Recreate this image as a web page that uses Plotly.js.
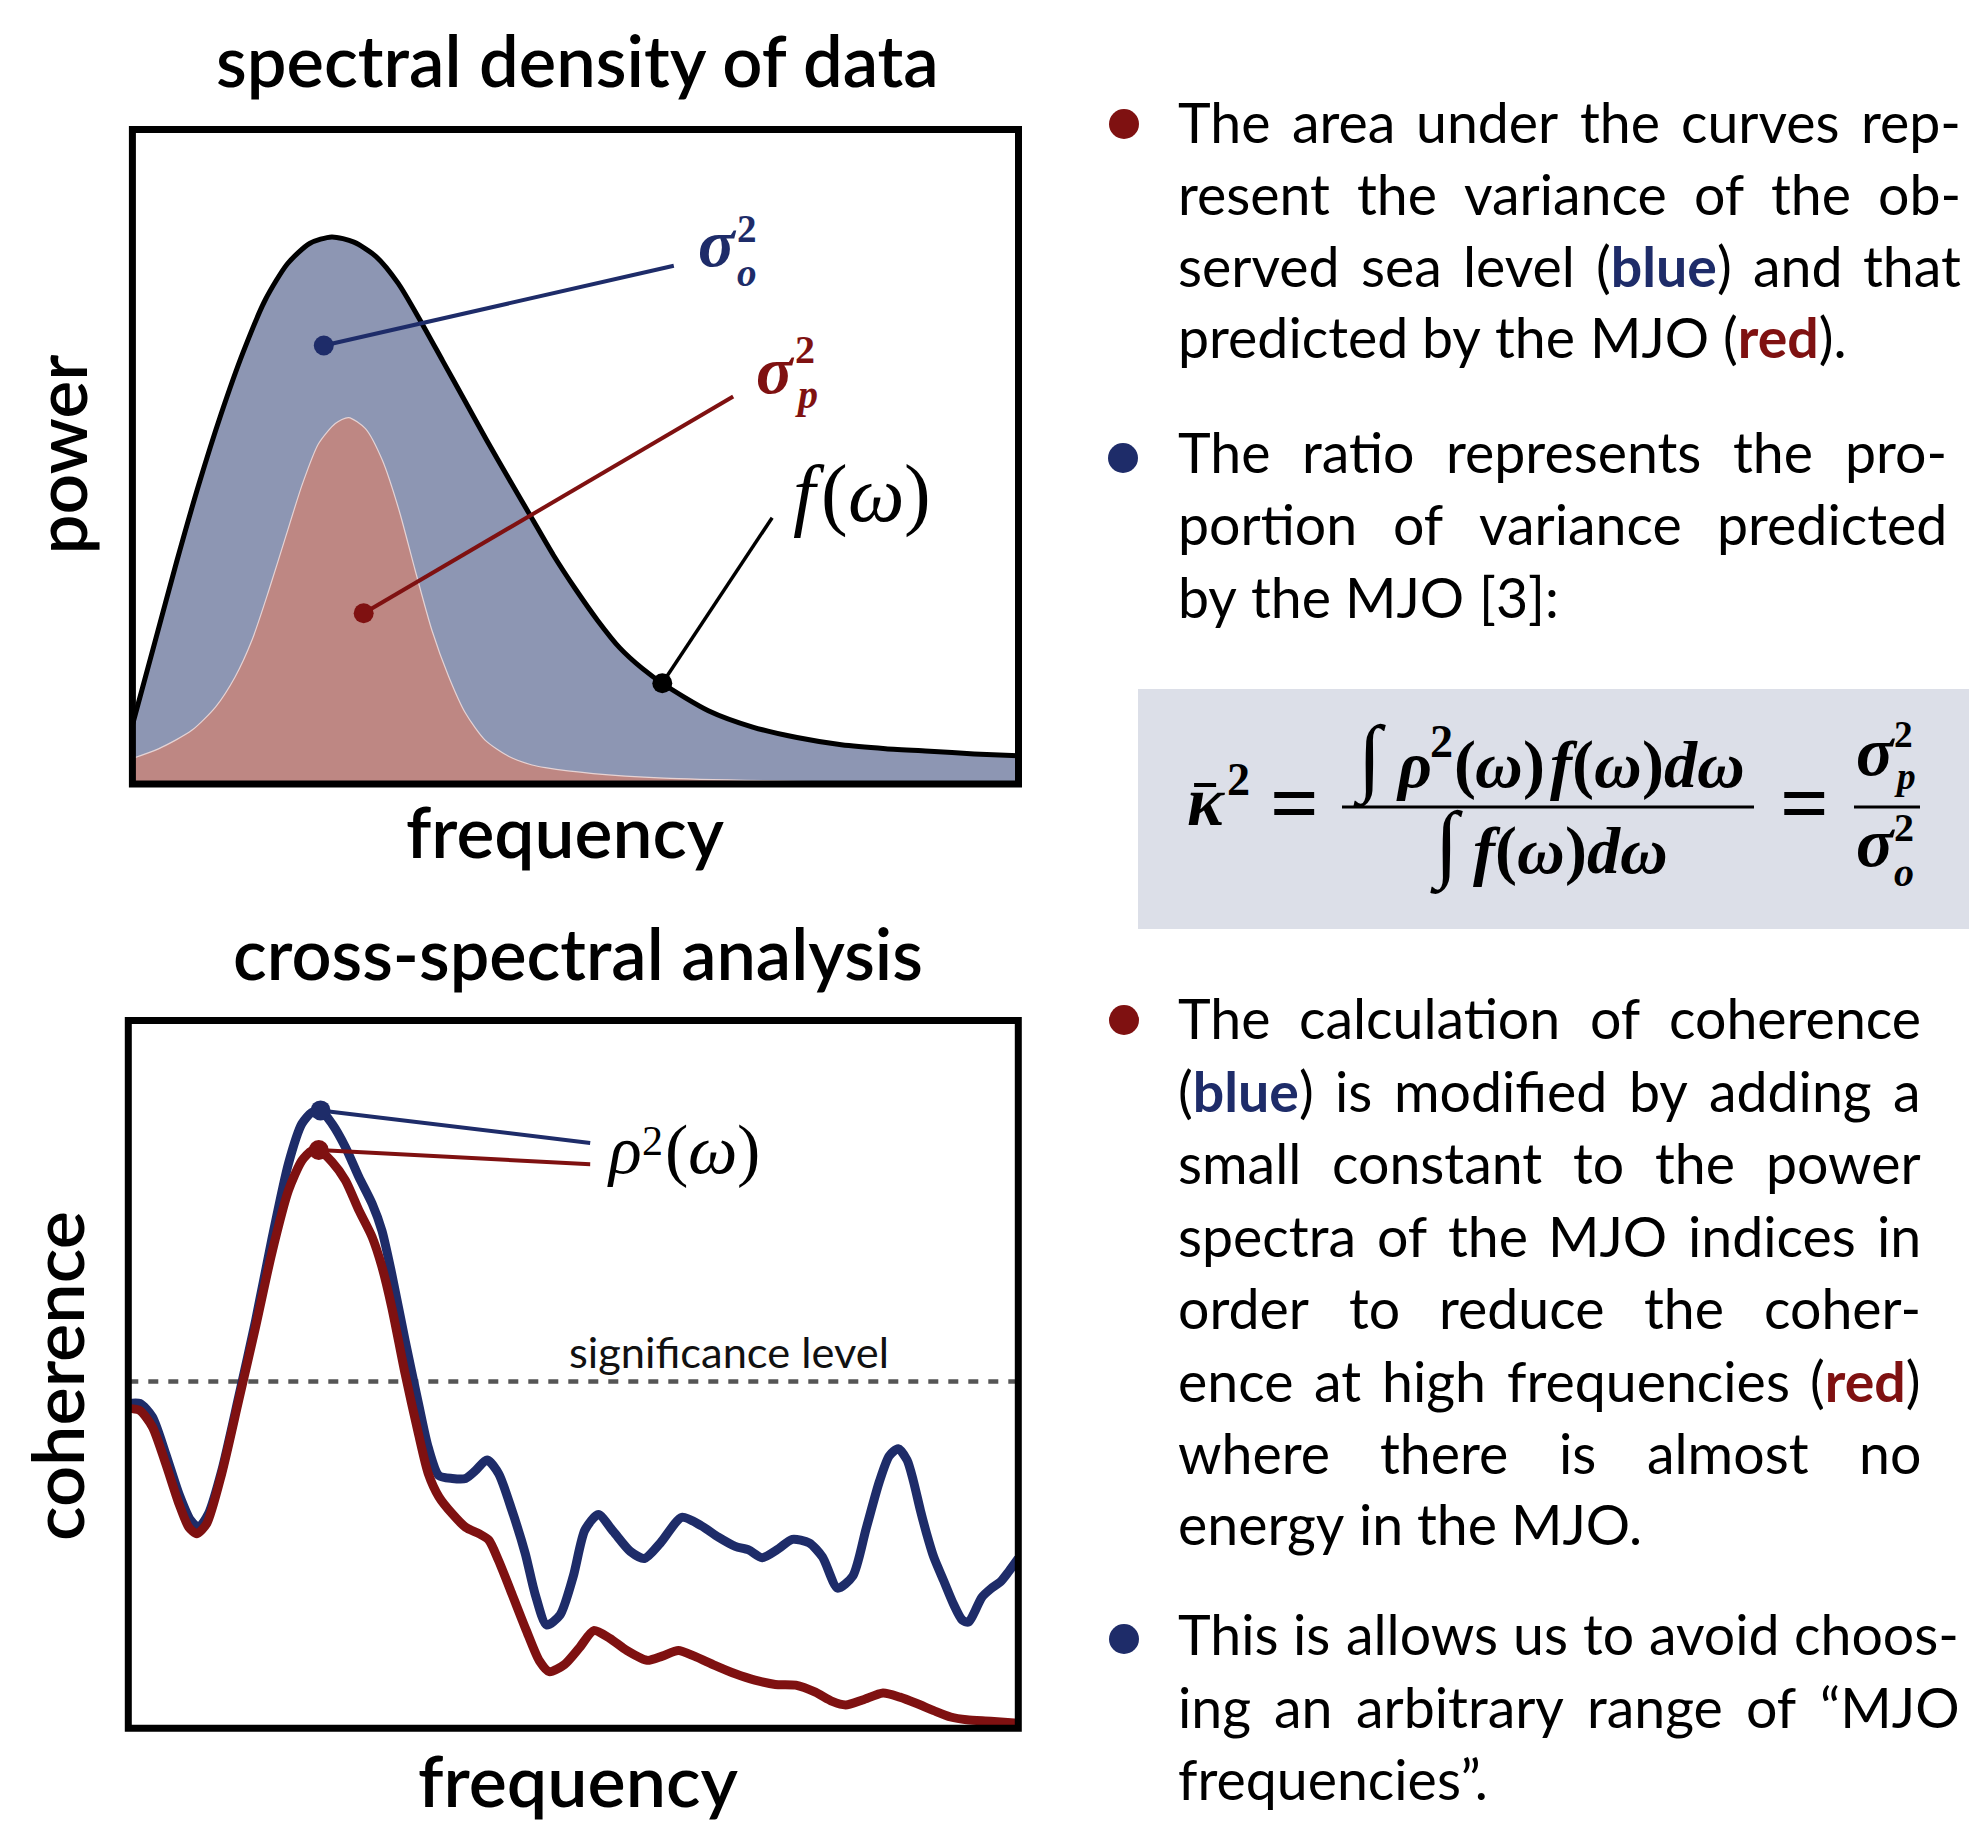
<!DOCTYPE html>
<html><head><meta charset="utf-8">
<script src="https://cdn.plot.ly/plotly-3.0.1.min.js"></script>
<style>html,body{margin:0;padding:0;background:#fff}#chart{width:1969px;height:1824px}</style>
</head><body><div id="chart"></div>
<script>
// ---------------- DATA ----------------
// top panel: spectral density f(omega) of observed data and the part predicted by the MJO
const freqObs  = [0.000, 0.025, 0.050, 0.075, 0.100, 0.125, 0.150, 0.175, 0.200, 0.225, 0.250, 0.275, 0.300, 0.325, 0.350, 0.375, 0.400, 0.425, 0.450, 0.475, 0.500, 0.525, 0.550, 0.575, 0.600, 0.650, 0.700, 0.750, 0.800, 0.850, 0.900, 0.950, 1.000];
const powerObs = [0.090, 0.215, 0.340, 0.458, 0.565, 0.660, 0.740, 0.795, 0.826, 0.836, 0.828, 0.806, 0.765, 0.708, 0.647, 0.586, 0.525, 0.466, 0.408, 0.350, 0.298, 0.250, 0.208, 0.177, 0.152, 0.112, 0.087, 0.071, 0.060, 0.054, 0.050, 0.046, 0.043];
const freqPred  = [0, 0.030, 0.067, 0.094, 0.116, 0.135, 0.154, 0.173, 0.192, 0.210, 0.229, 0.244, 0.263, 0.282, 0.301, 0.319, 0.338, 0.357, 0.376, 0.398, 0.425, 0.451, 0.466, 0.52, 0.6, 0.75, 0.9, 1.0];
const powerPred = [0.039, 0.054, 0.082, 0.118, 0.164, 0.220, 0.296, 0.378, 0.459, 0.520, 0.551, 0.560, 0.543, 0.495, 0.418, 0.327, 0.235, 0.164, 0.108, 0.067, 0.042, 0.029, 0.025, 0.016, 0.009, 0.004, 0.001, 0.0];

// bottom panel: coherence (original, blue) and modified coherence (red)
const freqCoh = [0.000,0.013,0.027,0.042,0.057,0.070,0.079,0.090,0.105,0.124,0.143,0.161,0.180,0.195,0.206,0.216,0.229,0.244,0.259,0.274,0.285,0.296,0.311,0.326,0.337,0.349,0.364,0.379,0.390,0.403,0.416,0.431,0.446,0.457,0.470,0.485,0.500,0.513,0.528,0.545,0.564,0.580,0.598,0.622,0.644,0.663,0.682,0.697,0.712,0.731,0.746,0.765,0.780,0.797,0.814,0.829,0.844,0.855,0.865,0.875,0.882,0.890,0.897,0.905,0.916,0.927,0.937,0.944,0.950,0.959,0.969,0.980,0.989,1.000];
const cohOriginal = [0.459,0.459,0.440,0.388,0.331,0.294,0.284,0.303,0.364,0.468,0.576,0.689,0.798,0.854,0.870,0.873,0.854,0.821,0.779,0.741,0.703,0.642,0.548,0.459,0.397,0.357,0.353,0.353,0.364,0.379,0.360,0.308,0.247,0.190,0.146,0.160,0.215,0.280,0.302,0.278,0.250,0.240,0.262,0.298,0.286,0.270,0.257,0.252,0.241,0.254,0.267,0.262,0.242,0.198,0.215,0.282,0.349,0.385,0.395,0.379,0.350,0.308,0.275,0.242,0.209,0.176,0.153,0.150,0.162,0.185,0.197,0.207,0.221,0.240];
const freqCohMod = [0.000,0.013,0.027,0.042,0.057,0.068,0.077,0.088,0.105,0.124,0.143,0.161,0.180,0.195,0.206,0.214,0.229,0.244,0.259,0.274,0.285,0.296,0.311,0.326,0.337,0.349,0.364,0.379,0.394,0.405,0.416,0.431,0.447,0.462,0.473,0.490,0.507,0.523,0.541,0.560,0.583,0.600,0.618,0.636,0.659,0.682,0.704,0.727,0.750,0.772,0.791,0.806,0.825,0.848,0.867,0.886,0.905,0.924,0.942,0.969,1.000];
const cohModified = [0.452,0.449,0.426,0.374,0.317,0.284,0.275,0.289,0.360,0.463,0.567,0.670,0.760,0.802,0.816,0.817,0.800,0.774,0.732,0.694,0.652,0.595,0.501,0.416,0.360,0.327,0.303,0.284,0.275,0.266,0.237,0.190,0.139,0.095,0.080,0.090,0.114,0.138,0.127,0.110,0.096,0.102,0.110,0.102,0.089,0.077,0.068,0.062,0.061,0.051,0.038,0.033,0.040,0.050,0.044,0.035,0.025,0.016,0.012,0.010,0.007];
const significanceLevel = 0.49;

// leader lines (point on curve -> label)
const leadSigmaO = {x:[0.216, 0.611], y:[0.670, 0.792]};
const leadSigmaP = {x:[0.261, 0.678], y:[0.261, 0.592]};
const leadF      = {x:[0.598, 0.722], y:[0.154, 0.407]};
const leadRhoOrig = {x:[0.216, 0.519], y:[0.873, 0.827]};
const leadRhoMod  = {x:[0.214, 0.519], y:[0.817, 0.797]};

// texts
const panelTitles = ['spectral density of data', 'cross-spectral analysis'];
const axisLabels = {topX:'frequency', topY:'power', botX:'frequency', botY:'coherence'};
const sigLabel = 'significance level';
const bulletTexts = [
  ["The area under the curves rep-", "resent the variance of the ob-", "served sea level ({b:blue}) and that", "predicted by the MJO ({r:red})."],
  ["The ratio represents the pro-", "portion of variance predicted", "by the MJO [3]:"],
  ["The calculation of coherence", "({b:blue}) is modified by adding a", "small constant to the power", "spectra of the MJO indices in", "order to reduce the coher-", "ence at high frequencies ({r:red})", "where there is almost no", "energy in the MJO."],
  ["This is allows us to avoid choos-", "ing an arbitrary range of \u201cMJO", "frequencies\u201d."]
];

// ---------------- STYLE / LAYOUT HELPERS ----------------
const W = 1969, H = 1824;
const navy = '#1e2c69', darkred = '#7f1111';
const SANS = 'Lato', SERIF = 'Liberation Serif';
const cv = document.createElement('canvas'); const ctx = cv.getContext('2d');
function cfont(f){ return `${f.style||'normal'} ${f.weight||400} ${f.size}px '${f.family}'`; }
function mW(t, f){ ctx.font = cfont(f); return ctx.measureText(t).width; }
function mets(f){ ctx.font = cfont(f); const m = ctx.measureText('Hgq'); return {a:m.fontBoundingBoxAscent, d:m.fontBoundingBoxDescent}; }
function centerFromBase(base, f){ const m = mets(f); return base - (m.a - m.d)/2; }
const annotations = [];
const shapes = [];
function addAnn(xpx, ypx, text, f, xa, angle){
  annotations.push({xref:'paper', yref:'paper', x:xpx/W, y:1-ypx/H, text:text, showarrow:false,
    xanchor:xa||'left', yanchor:'middle', borderpad:0, textangle:angle||0,
    font:{family:f.family === SERIF ? 'Liberation Serif, DejaVu Serif, serif' : f.family, size:f.size, color:f.color||'#000', weight:f.weight||400, style:f.style||'normal'}});
}
function fit(text, f, target){ const w = mW(text, Object.assign({}, f, {size:100})); return 100*target/w; }

// ---- big titles and axis labels ----
const bigF = {family:SANS, weight:600, color:'#000'};
[
  {t:panelTitles[0], cx:577, base:87, w:726},
  {t:axisLabels.topX, cx:565, base:858, w:318},
  {t:panelTitles[1], cx:578, base:980, w:690},
  {t:axisLabels.botX, cx:578, base:1807, w:320}
].forEach(o=>{ const f = Object.assign({}, bigF, {size:fit(o.t,bigF,o.w)}); addAnn(o.cx, centerFromBase(o.base,f), o.t, f, 'center'); });
[
  {t:axisLabels.topY, cy:455, bx:86, w:200},
  {t:axisLabels.botY, cy:1376, bx:84, w:330}
].forEach(o=>{ const f = Object.assign({}, bigF, {size:fit(o.t,bigF,o.w)}); const m = mets(f);
  addAnn(o.bx - (m.a-m.d)/2, o.cy, o.t, f, 'center', -90); });

// significance label
(function(){ const f0 = {family:SANS, weight:400, color:'#111'}; const f = Object.assign({}, f0, {size:fit(sigLabel,f0,320)});
  addAnn(729, centerFromBase(1368,f), sigLabel, f, 'center'); })();

// ---- math runs ----
function scriptSize(up, down){ const m = mets({family:SERIF, size:100, weight:700}); return 100*(up+down)/(m.a+m.d) - 0.5; }
function mathRun(pieces, x0, base, o){
  let x = 0, lastStart = 0; const items = [];
  pieces.forEach(p=>{
    const f = {family:SERIF, size:p.s, weight:p.b?700:400, style:p.it?'italic':'normal', color:o.color||'#000'};
    let px;
    if(p.stack){ px = lastStart; } else { x += (p.dx||0); px = x; lastStart = px; }
    const w = mW(p.t, f);
    items.push({px, f, t:p.t, base: base - (p.up||0), w});
    x = Math.max(x, px + w);
  });
  const off = o.center ? x0 - x/2 : x0;
  items.forEach(it=> addAnn(off + it.px, centerFromBase(it.base, it.f), it.t, it.f, 'left'));
  return {left:off, width:x, items:items.map(it=>({x:off+it.px, w:it.w}))};
}
// labels in the panels
(function(){
  const s1 = Math.min(42, scriptSize(24, 20));
  mathRun([{t:'\u03c3', s:68, b:1, it:1}, {t:'2', s:s1, b:1, up:24, dx:2}, {t:'o', s:s1, b:1, it:1, stack:1, up:-20}], 697, 266, {color:navy});
  const s2 = Math.min(42, scriptSize(30, 15));
  mathRun([{t:'\u03c3', s:68, b:1, it:1}, {t:'2', s:s2, b:1, up:30, dx:2}, {t:'p', s:s2, b:1, it:1, stack:1, up:-15}], 755, 393, {color:darkred});
})();
mathRun([{t:'f', s:80, it:1}, {t:'(', s:80, dx:6}, {t:'\u03c9', s:80, it:1}, {t:')', s:80}], 792, 521, {});
mathRun([{t:'\u03c1', s:68, it:1}, {t:'2', s:42, up:18, dx:2}, {t:'(', s:70, dx:2}, {t:'\u03c9', s:70, it:1}, {t:')', s:70}], 606, 1173, {});

// ---- formula box ----
shapes.push({type:'rect', xref:'paper', yref:'paper', x0:1138/W, x1:1, y0:1-929/H, y1:1-689/H, fillcolor:'#dcdfe8', line:{width:0}, layer:'below'});
(function(){
  const numP = S => [{t:'\u222b', s:1.3*S, b:1}, {t:'\u03c1', s:S, b:1, it:1, dx:0.3*S}, {t:'2', s:0.7*S, b:1, up:0.45*S},
    {t:'(', s:S, b:1}, {t:'\u03c9', s:S, b:1, it:1}, {t:')', s:S, b:1}, {t:'f', s:S, b:1, it:1, dx:0.08*S},
    {t:'(', s:S, b:1}, {t:'\u03c9', s:S, b:1, it:1}, {t:')', s:S, b:1}, {t:'d', s:S, b:1, it:1}, {t:'\u03c9', s:S, b:1, it:1}];
  const denP = S => [{t:'\u222b', s:1.3*S, b:1}, {t:'f', s:S, b:1, it:1, dx:0.3*S},
    {t:'(', s:S, b:1}, {t:'\u03c9', s:S, b:1, it:1}, {t:')', s:S, b:1}, {t:'d', s:S, b:1, it:1}, {t:'\u03c9', s:S, b:1, it:1}];
  let x = 0;
  numP(100).forEach(p=>{ const f = {family:SERIF, size:p.s, weight:p.b?700:400, style:p.it?'italic':'normal'}; x += (p.dx||0); x += mW(p.t,f); });
  const S = Math.min(66, 100*405/x);
  mathRun(numP(S), 1548, 787, {center:1});
  mathRun(denP(S), 1548, 873, {center:1});
  const k = mathRun([{t:'\u03ba', s:S*1.05, b:1, it:1}, {t:'2', s:0.7*S, b:1, up:0.45*S, dx:3}], 1186, 825, {});
  const kw = k.items[0].w;
  shapes.push({type:'line', xref:'paper', yref:'paper', x0:(1186+kw*0.22)/W, x1:(1186+kw*0.82)/W, y0:1-785/H, y1:1-785/H, line:{color:'#000', width:4}});
  mathRun([{t:'=', s:S*1.3, b:1}], 1293, 811 + 0.25*S*1.3, {center:1});
  mathRun([{t:'=', s:S*1.3, b:1}], 1803, 811 + 0.25*S*1.3, {center:1});
  const s3 = Math.min(0.7*S, scriptSize(28, 14));
  mathRun([{t:'\u03c3', s:S*1.05, b:1, it:1}, {t:'2', s:s3, b:1, up:28, dx:1}, {t:'p', s:s3, b:1, it:1, stack:1, up:-14}], 1855, 775, {});
  const s4 = Math.min(0.7*S, scriptSize(25, 20));
  mathRun([{t:'\u03c3', s:S*1.05, b:1, it:1}, {t:'2', s:s4, b:1, up:25, dx:1}, {t:'o', s:s4, b:1, it:1, stack:1, up:-20}], 1855, 866, {});
  shapes.push({type:'line', xref:'paper', yref:'paper', x0:1342/W, x1:1754/W, y0:1-807/H, y1:1-807/H, line:{color:'#000', width:3}});
  shapes.push({type:'line', xref:'paper', yref:'paper', x0:1854/W, x1:1920/W, y0:1-807/H, y1:1-807/H, line:{color:'#000', width:3}});
})();

// ---- bullets with justified text ----
const bulletCfg = [
  {color:darkred, dot:[1124,124], left:1177, right:1960, base:[143.3,215,286.7,358.3]},
  {color:navy,    dot:[1123,458], left:1177, right:1946, base:[472.7,545.5,618.2]},
  {color:darkred, dot:[1124,1020], left:1177, right:1920, base:[1039.2,1111.6,1184.1,1256.6,1329,1401.5,1474,1545.3]},
  {color:navy,    dot:[1124,1639], left:1177, right:1958, base:[1655,1727.6,1800]}
];
function parseWord(w){ const segs=[]; const re=/\{([br]):([^}]*)\}/g; let last=0, m;
  while((m=re.exec(w))){ if(m.index>last) segs.push({t:w.slice(last,m.index)}); segs.push({t:m[2], bold:true, color:m[1]==='b'?navy:darkred}); last=re.lastIndex; }
  if(last<w.length) segs.push({t:w.slice(last)}); return segs; }
function wordW(segs, size){ return segs.reduce((s,g)=> s + mW(g.t, {family:SANS, size, weight:g.bold?700:400}), 0); }
function wordHTML(segs){ return segs.map(g=> g.bold ? `<b><span style="color:${g.color}">${g.t}</span></b>` : g.t).join(''); }
const naturalTargets = [[bulletTexts[0][3],680],[bulletTexts[1][2],372],[bulletTexts[2][7],466],[bulletTexts[3][2],311]];
let ratio = 0;
naturalTargets.forEach(([line,tw])=>{ const words = line.split(' ').map(parseWord); const sp = mW(' ',{family:SANS,size:100});
  const nat = words.reduce((s,w)=>s+wordW(w,100),0) + sp*(words.length-1); ratio += tw/nat; });
const bodySize = 100*ratio/naturalTargets.length;
const bodyF = {family:SANS, size:bodySize, weight:400, color:'#000'};
const spaceW = mW(' ', bodyF);
bulletTexts.forEach((lines, bi)=>{
  const cfg = bulletCfg[bi];
  shapes.push({type:'circle', xref:'paper', yref:'paper', x0:(cfg.dot[0]-15)/W, x1:(cfg.dot[0]+15)/W, y0:1-(cfg.dot[1]+15)/H, y1:1-(cfg.dot[1]-15)/H, fillcolor:cfg.color, line:{width:0}});
  lines.forEach((line, li)=>{
    const words = line.split(' ').map(parseWord);
    const ws = words.map(w=>wordW(w, bodySize));
    const last = li === lines.length-1;
    let gap = spaceW;
    if(!last && words.length>1){ gap = (cfg.right - cfg.left - ws.reduce((a,b)=>a+b,0))/(words.length-1); gap = Math.max(gap, spaceW*0.35); }
    let x = cfg.left; const cy = centerFromBase(cfg.base[li], bodyF);
    words.forEach((w,i)=>{ addAnn(x, cy, wordHTML(w), bodyF, 'left'); x += ws[i] + gap; });
  });
});

// ---- panel borders ----
shapes.push({type:'rect', xref:'paper', yref:'paper', x0:132.4/W, x1:1018.5/W, y0:1-784/H, y1:1-129.6/H, line:{color:'#000', width:7}, layer:'above'});
shapes.push({type:'rect', xref:'paper', yref:'paper', x0:128.3/W, x1:1018.3/W, y0:1-1728.3/H, y1:1-1020.5/H, line:{color:'#000', width:7}, layer:'above'});

// ---------------- TRACES ----------------
const sp = {shape:'spline', smoothing:0.7};
const traces = [
  {x:freqObs, y:powerObs, xaxis:'x', yaxis:'y', mode:'lines', line:Object.assign({width:0}, sp), fill:'tozeroy', fillcolor:'#8d96b3', hoverinfo:'skip'},
  {x:freqPred, y:powerPred, xaxis:'x', yaxis:'y', mode:'lines', line:Object.assign({width:1.2, color:'rgba(236,218,218,0.9)'}, sp), fill:'tozeroy', fillcolor:'#be8783', hoverinfo:'skip'},
  {x:freqObs, y:powerObs, xaxis:'x', yaxis:'y', mode:'lines', line:Object.assign({width:5, color:'#000'}, sp), hoverinfo:'skip'},
  {x:leadSigmaO.x, y:leadSigmaO.y, xaxis:'x', yaxis:'y', mode:'lines', line:{width:4, color:navy}},
  {x:leadSigmaP.x, y:leadSigmaP.y, xaxis:'x', yaxis:'y', mode:'lines', line:{width:4, color:darkred}},
  {x:leadF.x, y:leadF.y, xaxis:'x', yaxis:'y', mode:'lines', line:{width:3.5, color:'#000'}},
  {x:[leadSigmaO.x[0], leadSigmaP.x[0], leadF.x[0]], y:[leadSigmaO.y[0], leadSigmaP.y[0], leadF.y[0]], xaxis:'x', yaxis:'y', mode:'markers', marker:{size:20, color:[navy, darkred, '#000']}},
  // bottom
  {x:[0,1], y:[significanceLevel, significanceLevel], xaxis:'x2', yaxis:'y2', mode:'lines', line:{width:4.5, color:'#555', dash:'10px,10px'}},
  {x:freqCoh, y:cohOriginal, xaxis:'x2', yaxis:'y2', mode:'lines', line:Object.assign({width:9, color:navy}, sp)},
  {x:freqCohMod, y:cohModified, xaxis:'x2', yaxis:'y2', mode:'lines', line:Object.assign({width:9, color:darkred}, sp)},
  {x:leadRhoOrig.x, y:leadRhoOrig.y, xaxis:'x2', yaxis:'y2', mode:'lines', line:{width:4, color:navy}},
  {x:leadRhoMod.x, y:leadRhoMod.y, xaxis:'x2', yaxis:'y2', mode:'lines', line:{width:4, color:darkred}},
  {x:[leadRhoOrig.x[0], leadRhoMod.x[0]], y:[leadRhoOrig.y[0], leadRhoMod.y[0]], xaxis:'x2', yaxis:'y2', mode:'markers', marker:{size:20, color:[navy, darkred]}}
];
const axB = {showgrid:false, zeroline:false, showline:false, showticklabels:false, ticks:'', fixedrange:true, range:[0,1]};
const layout = {
  width:W, height:H, margin:{l:0,r:0,t:0,b:0}, paper_bgcolor:'#fff', plot_bgcolor:'rgba(0,0,0,0)', showlegend:false,
  xaxis:Object.assign({}, axB, {domain:[132.4/W, 1018.5/W], anchor:'y'}),
  yaxis:Object.assign({}, axB, {domain:[1-784/H, 1-129.6/H], anchor:'x'}),
  xaxis2:Object.assign({}, axB, {domain:[128.3/W, 1018.3/W], anchor:'y2'}),
  yaxis2:Object.assign({}, axB, {domain:[1-1728.3/H, 1-1020.5/H], anchor:'x2'}),
  shapes:shapes, annotations:annotations
};
Plotly.newPlot('chart', traces, layout, {staticPlot:true, displayModeBar:false});
</script></body></html>
